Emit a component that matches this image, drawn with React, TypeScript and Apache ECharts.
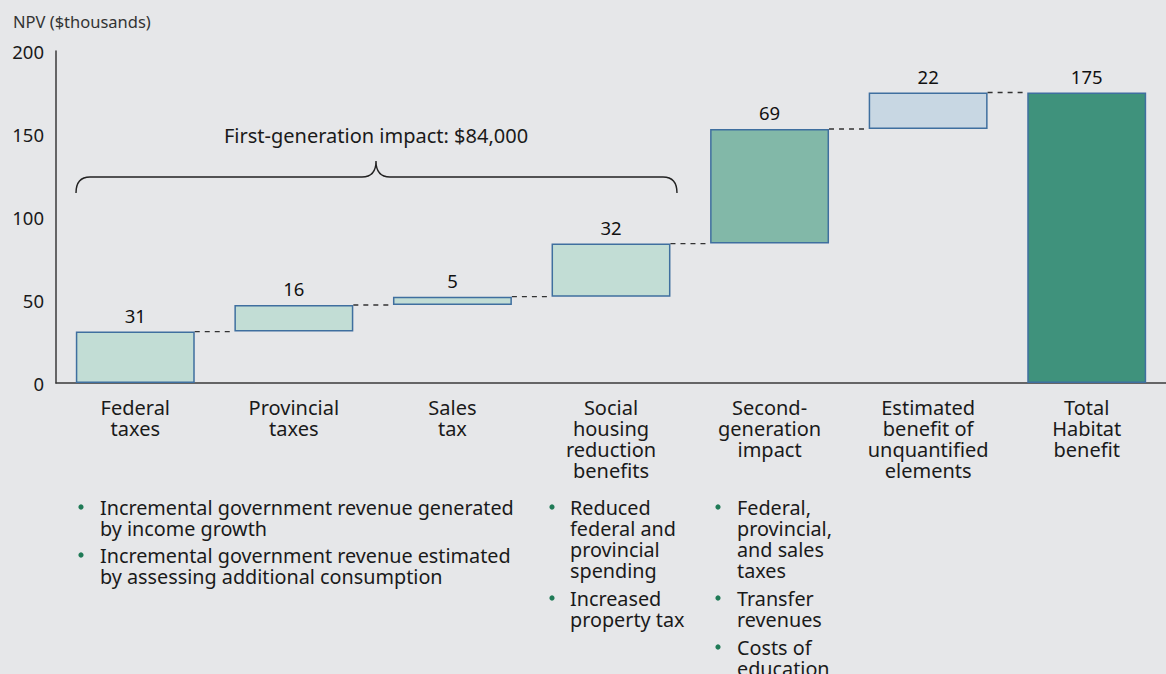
import React, { useEffect, useRef } from "react";
import * as echarts from "echarts";

const categories = [
  "Federal\ntaxes",
  "Provincial\ntaxes",
  "Sales\ntax",
  "Social\nhousing\nreduction\nbenefits",
  "Second-\ngeneration\nimpact",
  "Estimated\nbenefit of\nunquantified\nelements",
  "Total\nHabitat\nbenefit",
];
const increments = [31, 16, 5, 32, 69, 22, 175];
const isTotal = [false, false, false, false, false, false, true];
const barColors = ["#c2ddd5", "#c2ddd5", "#c2ddd5", "#c2ddd5", "#82b8a8", "#c8d7e3", "#3f927c"];
const yTicks = { min: 0, max: 200, interval: 50 };

const braceLabel = "First-generation impact: $84,000";
const bulletsLeft = [
  "Incremental government revenue generated\nby income growth",
  "Incremental government revenue estimated\nby assessing additional consumption",
];
const bulletsMiddle = ["Reduced\nfederal and\nprovincial\nspending", "Increased\nproperty tax"];
const bulletsRight = ["Federal,\nprovincial,\nand sales\ntaxes", "Transfer\nrevenues", "Costs of\neducation"];

const FONT = "'Noto Sans', sans-serif";
const BG = "#e6e7e9";
const TXT = "#1a1a1a";

echarts.graphic.registerShape(
  "brace",
  echarts.graphic.extendPath(
    "M76 193 Q76 177 90 177 L362 177 Q376 177 376 161 Q376 177 390 177 L663 177 Q677 177 677 193",
    {}
  )
);

function bulletGroup(items: string[], bx: number, tx: number, y0: number, lh: number, gap: number) {
  const els: any[] = [];
  let y = y0;
  items.forEach((t) => {
    const n = t.split("\n").length;
    els.push({ type: "circle", shape: { cx: bx, cy: y, r: 2.6 }, style: { fill: "#1f7a56" } });
    els.push({
      type: "text",
      x: tx,
      y: y - lh / 2,
      style: { text: t, font: `19.8px ${FONT}`, fill: TXT, lineHeight: lh, verticalAlign: "top", align: "left" },
    });
    y += n * lh + gap;
  });
  return els;
}

export default function App() {
  const ref = useRef<HTMLDivElement>(null);
  useEffect(() => {
    if (!ref.current) return;
    const chart = echarts.init(ref.current, null, { renderer: "svg" });
    const bases: number[] = [];
    let cum = 0;
    increments.forEach((v, i) => {
      if (isTotal[i]) {
        bases.push(0);
      } else {
        bases.push(cum);
        cum += v;
      }
    });
    const tops = increments.map((v, i) => bases[i] + v);
    const connectors = tops.slice(0, -1).map((t, i) => [i, t]);

    chart.setOption({
      animation: false,
      backgroundColor: BG,
      textStyle: { fontFamily: FONT },
      title: {
        text: "NPV ($thousands)",
        left: 8,
        top: 8,
        textStyle: { fontSize: 16.5, fontWeight: "normal", color: "#333", fontFamily: FONT },
      },
      grid: { left: 56, top: 51, width: 1120, height: 332, containLabel: false },
      xAxis: {
        type: "category",
        data: categories,
        axisLine: { show: true, lineStyle: { color: "#3a3a3a", width: 1.5 } },
        axisTick: { show: false },
        axisLabel: { interval: 0, fontSize: 20, lineHeight: 21, margin: 14, color: TXT, fontFamily: FONT },
      },
      yAxis: {
        type: "value",
        min: yTicks.min,
        max: yTicks.max,
        interval: yTicks.interval,
        axisLine: { show: true, lineStyle: { color: "#3a3a3a", width: 1.5 } },
        axisTick: { show: false },
        splitLine: { show: false },
        axisLabel: { fontSize: 18.5, color: TXT, margin: 12, fontFamily: FONT },
      },
      series: [
        {
          type: "bar",
          stack: "w",
          barWidth: "75%",
          data: bases,
          itemStyle: { color: "transparent" },
          silent: true,
        },
        {
          type: "bar",
          stack: "w",
          barWidth: "75%",
          data: increments.map((v, i) => ({
            value: v,
            itemStyle: { color: barColors[i], borderColor: "#3f6f9f", borderWidth: 1.5 },
          })),
          label: { show: true, position: "top", distance: 7, fontSize: 18.5, color: "#111", fontFamily: FONT },
        },
        {
          type: "custom",
          data: connectors,
          z: 5,
          renderItem: (params: any, api: any) => {
            const p = api.coord([api.value(0), api.value(1)]);
            const band = api.size([1, 0])[0];
            const half = band * 0.375;
            return {
              type: "line",
              shape: { x1: p[0] + half, y1: p[1], x2: p[0] + band - half, y2: p[1] },
              style: { stroke: "#333", lineWidth: 1.3, lineDash: [5, 5] },
            };
          },
        },
      ],
      graphic: [
        { type: "brace", x: 0, y: 0, style: { fill: null, stroke: "#222", lineWidth: 1.4 } },
        {
          type: "text",
          x: 376,
          y: 135,
          style: { text: braceLabel, font: `20px ${FONT}`, fill: TXT, align: "center", verticalAlign: "middle" },
        },
        ...bulletGroup(bulletsLeft, 81, 100, 507, 21, 6),
        ...bulletGroup(bulletsMiddle, 552, 570, 507, 21, 7),
        ...bulletGroup(bulletsRight, 718, 737, 507, 21, 7),
      ],
    });
    return () => chart.dispose();
  }, []);
  return (
    <div
      ref={ref}
      style={{ position: "fixed", left: 0, top: 0, width: 1166, height: 674, background: BG }}
    />
  );
}
